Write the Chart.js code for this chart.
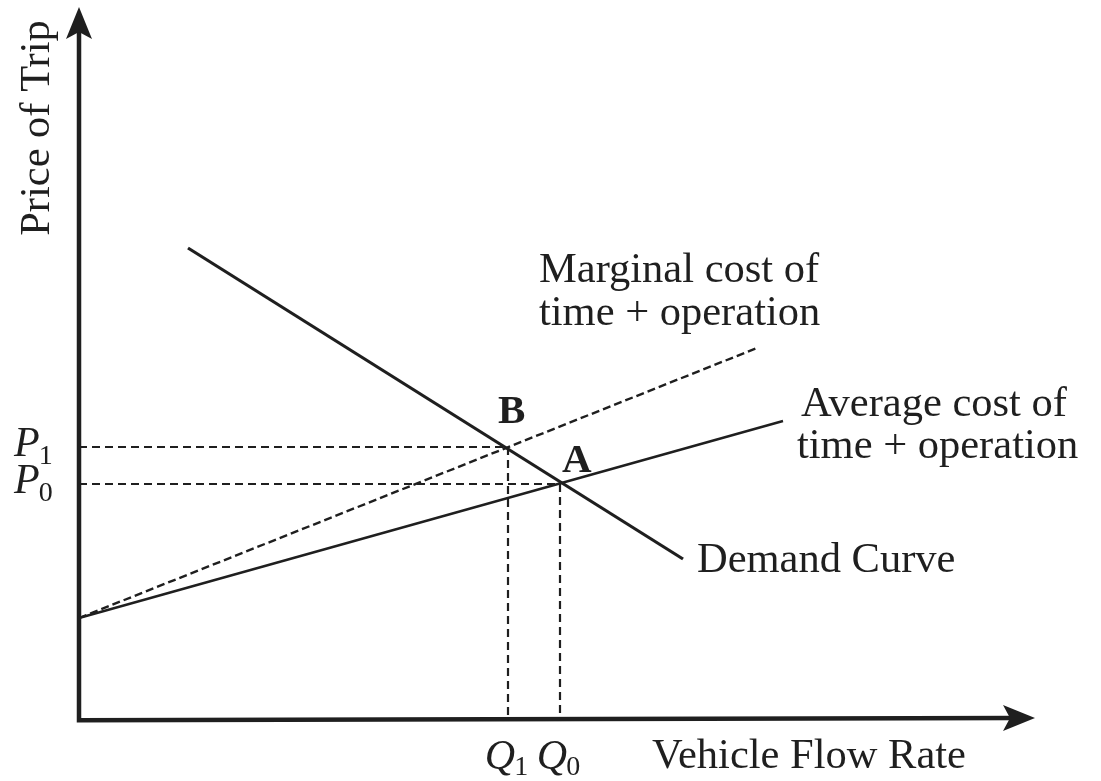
<!DOCTYPE html>
<html>
<head>
<meta charset="utf-8">
<style>
  html, body { margin: 0; padding: 0; background: #ffffff; }
  #wrap { width: 1101px; height: 781px; }
</style>
<script src="https://cdn.jsdelivr.net/npm/chart.js@4.4.1/dist/chart.umd.min.js"></script>
</head>
<body>
<div id="wrap"><canvas id="c" width="1101" height="781"></canvas></div>
<script>
// ---- data (arbitrary units: quantity on x, price on y) ----
const axisMaxX = 956;
const axisMaxY = 711;

const demandX = [109, 604];
const demandY = [470, 159];

const marginalX = [0, 678];
const marginalY = [100, 370];

const averageX = [0, 704];
const averageY = [100, 297];

const priceNames = ['P1', 'P0'];
const priceValues = [271, 234];
const quantityNames = ['Q1', 'Q0'];
const quantityValues = [429, 481];
const pointNames = ['B', 'A'];

const xTitle = 'Vehicle Flow Rate';
const yTitle = 'Price of Trip';
const demandLabel = ['Demand Curve'];
const marginalLabel = ['Marginal cost of', 'time + operation'];
const averageLabel = ['Average cost of', 'time + operation'];

const INK = '#1f1f1f';
const SERIF = '"Liberation Serif", "DejaVu Serif", serif';

function pts(xs, ys) { return xs.map((x, i) => ({ x: x, y: ys[i] })); }

const datasets = [
  { label: 'Demand Curve', data: pts(demandX, demandY), borderColor: INK, borderWidth: 3.2 },
  { label: 'Marginal cost', data: pts(marginalX, marginalY), borderColor: INK, borderWidth: 2.4, borderDash: [8, 4] },
  { label: 'Average cost', data: pts(averageX, averageY), borderColor: INK, borderWidth: 2.4 }
];
// guide lines for the two equilibria
priceValues.forEach((p, i) => {
  const q = quantityValues[i];
  datasets.push({ label: priceNames[i] + ' guide', data: [{ x: 0, y: p }, { x: q, y: p }, { x: q, y: 0 }],
    borderColor: INK, borderWidth: 2.2, borderDash: [8, 5] });
});
datasets.forEach(d => {
  d.type = 'line'; d.pointRadius = 0; d.fill = false; d.tension = 0; d.clip = false;
  d.borderCapStyle = 'butt';
});

const decor = {
  id: 'decor',
  afterDatasetsDraw(chart) {
    const ctx = chart.ctx;
    const xs = chart.scales.x, ys = chart.scales.y;
    const x0 = xs.getPixelForValue(0), y0 = ys.getPixelForValue(0);
    const xEnd = xs.getPixelForValue(axisMaxX), yEnd = ys.getPixelForValue(axisMaxY);
    ctx.save();
    // axes
    ctx.strokeStyle = INK; ctx.fillStyle = INK; ctx.lineWidth = 4.5; ctx.lineCap = 'butt';
    ctx.beginPath();
    ctx.moveTo(x0, yEnd + 20); ctx.lineTo(x0, y0 + 2.2);
    ctx.lineTo(xEnd - 20, y0);
    ctx.stroke();
    // arrow heads
    ctx.beginPath();
    ctx.moveTo(x0, yEnd); ctx.lineTo(x0 + 13, yEnd + 32); ctx.lineTo(x0, yEnd + 25); ctx.lineTo(x0 - 13, yEnd + 32);
    ctx.closePath(); ctx.fill();
    ctx.beginPath();
    ctx.moveTo(xEnd, y0); ctx.lineTo(xEnd - 32, y0 - 13); ctx.lineTo(xEnd - 25, y0); ctx.lineTo(xEnd - 32, y0 + 13);
    ctx.closePath(); ctx.fill();

    // texts
    ctx.fillStyle = INK;
    ctx.textBaseline = 'alphabetic';
    const reg = '42.5px ' + SERIF;
    ctx.font = reg; ctx.textAlign = 'left';
    ctx.fillText(xTitle, 652, 768);
    ctx.fillText(demandLabel[0], 697, 572);
    marginalLabel.forEach((t, i) => ctx.fillText(t, 539, 282 + i * 43));
    ctx.fillText(averageLabel[0], 801, 416);
    ctx.fillText(averageLabel[1], 797, 458);

    // y title rotated
    ctx.save();
    ctx.translate(49, 128); ctx.rotate(-Math.PI / 2);
    ctx.textAlign = 'center'; ctx.fillText(yTitle, 0, 0);
    ctx.restore();

    // P labels
    priceNames.forEach((n, i) => {
      const py = ys.getPixelForValue(priceValues[i]);
      ctx.font = 'italic 42px ' + SERIF; ctx.textAlign = 'left';
      const wP = ctx.measureText(n[0]).width;
      ctx.fillText(n[0], 14, py + 9);
      ctx.font = '28px ' + SERIF;
      ctx.fillText(n.slice(1), 14 + wP - 1, py + 17);
    });
    // Q labels
    quantityNames.forEach((n, i) => {
      const qx = xs.getPixelForValue(quantityValues[i]);
      ctx.font = 'italic 42px ' + SERIF; ctx.textAlign = 'left';
      const wQ = ctx.measureText(n[0]).width;
      ctx.font = '28px ' + SERIF;
      const wS = ctx.measureText(n.slice(1)).width;
      const left = qx - (wQ + wS) / 2 - 1;
      ctx.font = 'italic 42px ' + SERIF;
      ctx.fillText(n[0], left, 769);
      ctx.font = '28px ' + SERIF;
      ctx.fillText(n.slice(1), left + wQ - 1, 775);
    });
    // point labels
    ctx.font = 'bold 41px ' + SERIF; ctx.textAlign = 'left';
    const bx = xs.getPixelForValue(quantityValues[0]), by = ys.getPixelForValue(priceValues[0]);
    ctx.fillText(pointNames[0], bx - 10, by - 24);
    const ax = xs.getPixelForValue(quantityValues[1]), ay = ys.getPixelForValue(priceValues[1]);
    ctx.fillText(pointNames[1], ax + 2, ay - 12);
    ctx.restore();
  }
};

new Chart(document.getElementById('c'), {
  type: 'line',
  data: { datasets: datasets },
  options: {
    responsive: false,
    animation: false,
    devicePixelRatio: 1,
    layout: { padding: { left: 79, right: 66, top: 7, bottom: 63 } },
    plugins: { legend: { display: false }, tooltip: { enabled: false }, title: { display: false } },
    scales: {
      x: { type: 'linear', display: false, min: 0, max: axisMaxX },
      y: { type: 'linear', display: false, min: 0, max: axisMaxY }
    }
  },
  plugins: [decor]
});
</script>
</body>
</html>
